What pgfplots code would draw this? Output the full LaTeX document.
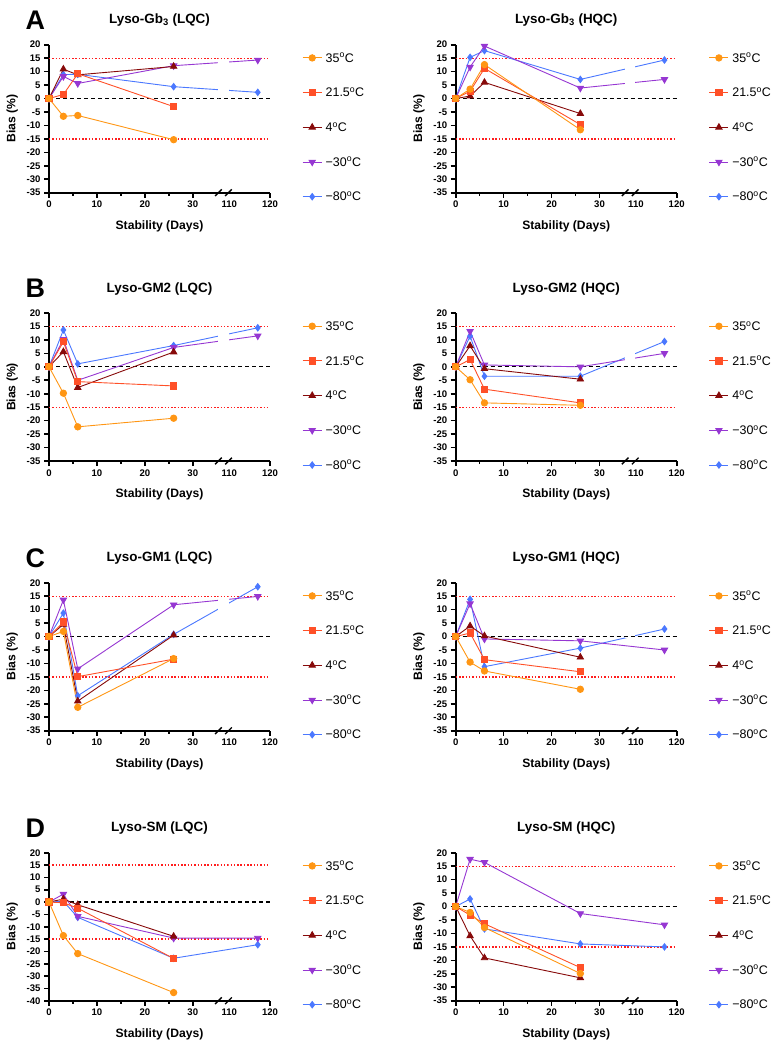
\documentclass[border=0pt]{standalone}
\usepackage{pgfplots}
\pgfplotsset{compat=1.18}
\usepackage{pgfplotstable}
\usepackage{fontspec}
\setmainfont{Liberation Sans}
\usetikzlibrary{calc}

\definecolor{c35}{RGB}{255,150,20}
\definecolor{c215}{RGB}{255,80,40}
\definecolor{c4}{RGB}{135,10,10}
\definecolor{c30}{RGB}{150,55,210}
\definecolor{c80}{RGB}{75,120,255}
\definecolor{limred}{RGB}{255,30,30}

% columns: day, 35C, 21.5C, 4C, -30C, -80C
\pgfplotstableread{
day   a      b      c      d      e
0     0      0      0      0      0
3    -6.6    1.5   10.9    8.2    8.9
6    -6.3    9.2    8.8    5.6    9.0
26  -15.3   -3.0   11.9   12.2    4.4
117   nan    nan    nan   14.3    2.3
}\tabAL
\pgfplotstableread{
day   a      b      c      d      e
0     0      0      0      0      0
3     3.5    2.7    0.9   11.7   15.3
6    12.6   11.2    6.0   19.5   17.8
26  -11.6   -9.7   -5.6    3.9    7.1
117   nan    nan    nan    7.1   14.3
}\tabAR
\pgfplotstableread{
day   a      b      c      d      e
0     0      0      0      0      0
3    -9.8    9.3    5.6   10.2   13.7
6   -22.3   -5.5   -7.7   -5.0    1.1
26  -19.1   -7.1    5.5    7.2    7.9
117   nan    nan    nan   11.5   14.5
}\tabBL
\pgfplotstableread{
day   a      b      c      d      e
0     0      0      0      0      0
3    -4.8    2.7    7.8   13.2   11.4
6   -13.4   -8.3   -0.7    0.7   -3.5
26  -14.3  -13.4   -4.6    0.0   -3.5
117   nan    nan    nan    5.0    9.4
}\tabBR
\pgfplotstableread{
day   a      b      c      d      e
0     0      0      0      0      0
3     1.9    5.4    4.5   13.6    8.7
6   -26.3  -14.9  -24.0  -12.0  -22.0
26   -8.2   -8.4    0.5   11.8    0.8
117   nan    nan    nan   14.9   18.5
}\tabCL
\pgfplotstableread{
day   a      b      c      d      e
0     0      0      0      0      0
3    -9.5    1.3    3.9   12.2   13.8
6   -12.8   -8.6    0.2   -0.9  -11.2
26  -19.6  -13.1   -7.7   -1.6   -4.3
117   nan    nan    nan   -5.0    2.8
}\tabCR
\pgfplotstableread{
day   a      b      c      d      e
0     0      0      0      0      0
3   -13.6   -0.3    1.2    3.2    0.3
6   -20.9   -2.5   -1.1   -5.8   -6.2
26  -36.7  -22.9  -13.9  -14.6  -22.8
117   nan    nan    nan  -14.6  -17.3
}\tabDL
\pgfplotstableread{
day   a      b      c      d      e
0     0      0      0      0      0
3    -2.2   -3.2  -10.9   17.6    2.8
6    -7.8   -6.4  -19.1   16.4   -8.3
26  -24.9  -22.7  -26.5   -2.6  -13.9
117   nan    nan    nan   -6.8  -15.0
}\tabDR

\newcommand\reflines{%
  \draw[limred, line width=1.3bp, dash pattern=on 1.5bp off 1.8bp]
    (axis cs:0,15) -- (axis cs:46.1,15) (axis cs:0,-15) -- (axis cs:46.1,-15);
  \draw[black, line width=1.2bp, dash pattern=on 4bp off 3bp]
    (axis cs:0,0) -- (axis cs:46.1,0);
}
% axis break between 35 and 110
\newcommand\brk{%
  \path ({axis cs:35.35,0} |- {rel axis cs:0,0}) coordinate (g1)
        ({axis cs:37.45,0} |- {rel axis cs:0,0}) coordinate (g3)
        ({axis cs:37.45,0} |- {rel axis cs:0,1}) coordinate (g2);
  \fill[white] ($(g1)+(0,-1.6bp)$) rectangle ($(g2)+(0,1bp)$);
  \begin{scope}
    \clip ($(g1)+(0,-1.6bp)$) rectangle ($(g2)+(0,1bp)$);
    \reflines
  \end{scope}
  \draw[line width=1.4bp] ($(g1)+(-3.3bp,-3.3bp)$) -- ($(g1)+(3.3bp,3.3bp)$)
                          ($(g3)+(-3.3bp,-3.3bp)$) -- ($(g3)+(3.3bp,3.3bp)$);
}
\newcommand\series[1]{%
  \addplot[c80, mark=diamond*, mark size=3.2bp] table[x=day,y=e]{#1};
  \addplot[c30, mark=triangle*, mark options={rotate=180}, mark size=3.6bp] table[x=day,y=d]{#1};
  \addplot[c4, mark=triangle*, mark size=3.6bp] table[x=day,y=c]{#1};
  \addplot[c215, mark=square*, mark size=3.1bp] table[x=day,y=b]{#1};
  \addplot[c35, mark=*, mark size=3.2bp] table[x=day,y=a]{#1};
  \legend{−80\textsuperscript{o}C, −30\textsuperscript{o}C, 4\textsuperscript{o}C, 21.5\textsuperscript{o}C, 35\textsuperscript{o}C}
}

\newcommand\tickfont{\bfseries\fontsize{9.6}{11}\selectfont}
\tikzset{letter/.style={anchor=east, font=\bfseries\fontsize{27}{30}\selectfont}}
\pgfplotsset{
  panel/.style={
    scale only axis, width=221bp, height=148bp,
    xmin=0, xmax=46.1, ymax=20, ytick distance=5,
    axis lines*=left, axis on top=false, clip=false,
    axis line style={line width=2bp},
    every tick/.style={black, line width=1.6bp},
    tick align=outside, major tick length=5bp, minor tick length=3bp,
    xtick={0,10,20,30,46.1}, xticklabels={0,10,20,30,120},
    extra x ticks={37.6}, extra x tick labels={110},
    extra x tick style={major tick length=0pt, xticklabel style={font=\tickfont, yshift=-5bp}},
    minor xtick={5,15,25},
    x filter/.expression={x>100 ? 37.6+0.85*(x-110) : x},
    /pgf/number format/assume math mode=true,
    xticklabel style={font=\tickfont},
    yticklabel style={font=\tickfont},
    every axis plot/.append style={line width=0.9bp, mark options={solid}},
    xlabel={Stability (Days)}, ylabel={Bias (\%)},
    xlabel style={at={(axis description cs:0.5,-0.225)}, anchor=center, font=\bfseries\fontsize{12.2}{14}\selectfont},
    ylabel style={at={(axis description cs:-0.166,0.5)}, anchor=center, font=\bfseries\fontsize{12.2}{14}\selectfont},
    every axis title shift=0pt,
    title style={at={(axis description cs:0.5,1.165)}, anchor=center, yshift=0pt, font=\bfseries\fontsize{13.5}{15}\selectfont},
    reverse legend,
    legend cell align=left,
    legend style={draw=none, fill=none, at={(1.146,0.953)}, anchor=north west,
      inner sep=0pt, outer sep=0pt, font=\fontsize{12.5}{14}\selectfont,
      row sep=22.2bp, column sep=2bp,
      nodes={inner sep=1.5bp, text height=9bp, text depth=0.5bp}},
    legend image code/.code={\draw[mark repeat=2,mark phase=2,#1] plot coordinates {(0bp,0bp) (9.5bp,0bp) (19bp,0bp)};},
  },
}

\begin{document}
\begin{tikzpicture}
\useasboundingbox (0,0) rectangle (782bp,-1045bp);

\begin{axis}[panel, at={(49bp,-192.7bp)}, ymin=-35, title={Lyso-Gb\textsubscript{3} (LQC)}]
\reflines
\series{\tabAL}
\brk
\node[letter] at (rel axis cs:-0.002,1.165) {A};
\end{axis}
\begin{axis}[panel, at={(455.7bp,-192.7bp)}, ymin=-35, title={Lyso-Gb\textsubscript{3} (HQC)}]
\reflines
\series{\tabAR}
\brk
\end{axis}

\begin{axis}[panel, at={(49bp,-461bp)}, ymin=-35, title={Lyso-GM2 (LQC)}]
\reflines
\series{\tabBL}
\brk
\node[letter] at (rel axis cs:-0.002,1.165) {B};
\end{axis}
\begin{axis}[panel, at={(455.7bp,-461bp)}, ymin=-35, title={Lyso-GM2 (HQC)}]
\reflines
\series{\tabBR}
\brk
\end{axis}

\begin{axis}[panel, at={(49bp,-730.7bp)}, ymin=-35, title={Lyso-GM1 (LQC)}]
\reflines
\series{\tabCL}
\brk
\node[letter] at (rel axis cs:-0.002,1.165) {C};
\end{axis}
\begin{axis}[panel, at={(455.7bp,-730.7bp)}, ymin=-35, title={Lyso-GM1 (HQC)}]
\reflines
\series{\tabCR}
\brk
\end{axis}

\begin{axis}[panel, at={(49bp,-1000.7bp)}, ymin=-40, title={Lyso-SM (LQC)}]
\reflines
\series{\tabDL}
\brk
\node[letter] at (rel axis cs:-0.002,1.165) {D};
\end{axis}
\begin{axis}[panel, at={(455.7bp,-1000.7bp)}, ymin=-35, title={Lyso-SM (HQC)}]
\reflines
\series{\tabDR}
\brk
\end{axis}
\end{tikzpicture}
\end{document}
